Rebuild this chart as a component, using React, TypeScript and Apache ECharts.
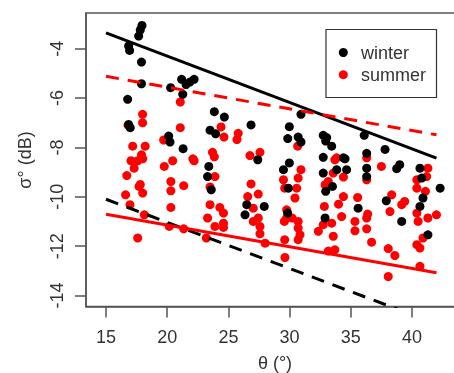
import React, { useEffect, useRef } from "react";
import * as echarts from "echarts";

// incidence angle (deg), backscatter (dB)
const winterPoints: [number, number][] = [
  [17.94, -3.06], [17.8, -3.24], [17.67, -3.49], [16.85, -3.89], [16.93, -4.07],
  [17.9, -4.54], [17.9, -5.42], [16.77, -6.05], [16.85, -7.07], [16.98, -7.2],
  [21.18, -5.24], [21.54, -5.45], [22.2, -5.24], [21.85, -5.35], [21.27, -5.85],
  [20.28, -5.58], [20.12, -7.54], [20.23, -7.78], [21.3, -8.05],
  [23.85, -6.55], [24.67, -6.77], [23.5, -7.3], [23.96, -7.45], [26.85, -7.09],
  [30.93, -6.66], [29.98, -7.16], [29.85, -7.64], [30.7, -7.58], [30.93, -7.78],
  [32.75, -7.51], [32.95, -7.74], [27.4, -8.5], [32.75, -8.4],
  [23.4, -8.77], [23.3, -9.18], [23.6, -9.72], [26.5, -10.32], [26.36, -10.73],
  [27.93, -10.39], [29.98, -8.63], [29.5, -8.9], [29.9, -9.65], [29.84, -10.66],
  [32.75, -9.04], [32.95, -9.78], [32.9, -10.86], [36.1, -7.51], [37.8, -8.08],
  [33.03, -7.6], [33.44, -7.95], [34.4, -8.42], [36.3, -8.24], [34.53, -8.46],
  [33.85, -8.9], [34.66, -8.9], [36.3, -8.84], [36.3, -9.18], [38.75, -8.86],
  [39.0, -8.7], [40.65, -8.84], [40.8, -9.24], [40.9, -10.05], [40.65, -10.39],
  [39.16, -11.0], [41.3, -11.54], [42.3, -9.65], [37.9, -10.16], [35.6, -10.46],
  [33.5, -9.58],
];

const summerPoints: [number, number][] = [
  [17.99, -6.66], [17.99, -7.0], [16.8, -7.1], [17.18, -7.95], [18.2, -7.95],
  [17.04, -8.54], [17.59, -8.54], [18.0, -8.46], [17.3, -8.84], [16.7, -9.14],
  [17.7, -9.58], [18.0, -9.85], [16.6, -9.92], [16.96, -10.32], [18.13, -10.73],
  [17.59, -11.67], [17.9, -8.3], [17.8, -9.5],
  [21.07, -6.16], [21.07, -7.2], [19.71, -7.7], [19.76, -8.77], [20.45, -8.54],
  [20.3, -9.38], [20.3, -9.76], [21.35, -9.55], [20.3, -10.43], [20.17, -11.2],
  [21.35, -11.3], [22.1, -8.46], [22.2, -8.54],
  [24.4, -7.17], [24.64, -7.58], [23.7, -8.2], [23.85, -8.38], [23.9, -9.18],
  [23.5, -10.32], [23.3, -10.86], [23.9, -11.2], [23.2, -11.67], [24.3, -10.43],
  [24.6, -10.66], [24.6, -11.07], [24.6, -11.24], [23.5, -9.6],
  [25.8, -7.43], [25.7, -7.68],
  [26.76, -8.33], [27.58, -8.2], [26.85, -9.48], [26.58, -9.99], [27.44, -9.89],
  [27.03, -10.46], [27.44, -10.86], [27.58, -11.2], [27.58, -11.5], [27.03, -11.0],
  [28.0, -11.88],
  [30.66, -7.95], [30.93, -8.9], [30.7, -9.24], [30.58, -9.65], [30.44, -10.05],
  [29.5, -9.31], [29.6, -9.65], [29.76, -10.53], [29.57, -11.0], [30.2, -10.86],
  [30.7, -11.0], [30.7, -11.27], [30.85, -11.54], [30.7, -11.74], [29.6, -11.74],
  [29.62, -12.46], [29.76, -10.86],
  [32.9, -9.51], [32.84, -10.39], [32.75, -11.13], [32.35, -11.4], [33.16, -12.2],
  [33.85, -8.42], [33.7, -8.5], [33.57, -9.04], [34.4, -9.99], [34.0, -10.3],
  [34.25, -10.8], [33.44, -11.07], [33.57, -11.6], [33.7, -12.15], [34.4, -9.2],
  [33.16, -9.38],
  [36.3, -8.42], [36.3, -9.31], [35.56, -10.03], [35.34, -11.0], [35.34, -11.38],
  [36.38, -10.7], [36.3, -10.86], [36.3, -11.3], [36.7, -11.84], [37.5, -8.77],
  [38.34, -9.92], [38.2, -10.6], [39.16, -10.32], [39.4, -10.19], [38.06, -12.1],
  [38.6, -12.38], [38.06, -13.23],
  [41.3, -8.84], [40.4, -9.31], [40.4, -9.65], [41.1, -9.78], [40.4, -10.66],
  [40.5, -11.0], [41.3, -10.86], [42.0, -10.73], [40.4, -11.94], [40.65, -12.08],
  [40.9, -11.67], [40.65, -12.82], [41.2, -9.18],
];

// regression / envelope lines: [theta, sigma] endpoints
const winterUpper: [number, number][] = [[15, -3.36], [42, -8.43]];
const winterLower: [number, number][] = [[15, -10.1], [42, -15.15]];
const summerUpper: [number, number][] = [[15, -5.12], [42, -7.49]];
const summerLower: [number, number][] = [[15, -10.71], [42, -13.08]];

const xTicks = [15, 20, 25, 30, 35, 40];
const yTicks = [-14, -12, -10, -8, -6, -4];

const FONT = "'Liberation Sans', Arial, Helvetica, sans-serif";
const AX = "#555";

export default function App() {
  const ref = useRef<HTMLDivElement>(null);
  useEffect(() => {
    if (!ref.current) return;
    const chart = echarts.init(ref.current, undefined, { renderer: "svg" });
    const lineSeries = (data: [number, number][], color: string, dashed: boolean) => ({
      type: "line",
      data,
      symbol: "none",
      clip: true,
      silent: true,
      z: 5,
      lineStyle: { color, width: 3, type: dashed ? [13, 9] : "solid", cap: "butt" },
    });
    chart.setOption({
      animation: false,
      grid: {
        left: 86,
        top: 13,
        width: 378,
        height: 293.5,
        show: true,
        borderColor: AX,
        borderWidth: 1.5,
        backgroundColor: "transparent",
      },
      xAxis: {
        type: "value",
        min: 13.366,
        max: 44.25,
        splitLine: { show: false },
        axisLine: { show: true, onZero: false, lineStyle: { color: AX, width: 1.5 } },
        axisTick: { show: true, length: 11, customValues: xTicks, lineStyle: { color: AX, width: 1.5 } },
        axisLabel: {
          customValues: xTicks,
          margin: 21,
          fontSize: 18,
          fontFamily: FONT,
          color: "#333",
        },
      },
      yAxis: {
        type: "value",
        min: -14.446,
        max: -2.553,
        splitLine: { show: false },
        axisLine: { show: true, onZero: false, lineStyle: { color: AX, width: 1.5 } },
        axisTick: { show: true, length: 11, customValues: yTicks, lineStyle: { color: AX, width: 1.5 } },
        axisLabel: {
          customValues: yTicks,
          rotate: 90,
          margin: 20,
          fontSize: 18,
          fontFamily: FONT,
          color: "#333",
        },
      },
      series: [
        {
          type: "scatter",
          name: "summer",
          data: summerPoints,
          symbol: "circle",
          symbolSize: 9,
          itemStyle: { color: "#ff0000", opacity: 1 },
          z: 2,
        },
        {
          type: "scatter",
          name: "winter",
          data: winterPoints,
          symbol: "circle",
          symbolSize: 9,
          itemStyle: { color: "#000000", opacity: 1 },
          z: 3,
        },
        lineSeries(winterUpper, "#000000", false),
        lineSeries(winterLower, "#000000", true),
        lineSeries(summerUpper, "#ff0000", true),
        lineSeries(summerLower, "#ff0000", false),
      ],
      graphic: [
        {
          type: "rect",
          shape: { x: 326, y: 29.5, width: 110.5, height: 68 },
          style: { fill: "#fff", stroke: "#333", lineWidth: 1.2 },
          z: 10,
        },
        { type: "circle", shape: { cx: 343.3, cy: 52.5, r: 4.5 }, style: { fill: "#000" }, z: 11 },
        { type: "circle", shape: { cx: 343.3, cy: 74.7, r: 4.5 }, style: { fill: "#ff0000" }, z: 11 },
        {
          type: "text",
          x: 361,
          y: 52.5,
          style: { text: "winter", fontSize: 18, fontFamily: FONT, fill: "#333", verticalAlign: "middle" },
          z: 11,
        },
        {
          type: "text",
          x: 361,
          y: 74.7,
          style: { text: "summer", fontSize: 18, fontFamily: FONT, fill: "#333", verticalAlign: "middle" },
          z: 11,
        },
        {
          type: "text",
          x: 275,
          y: 363,
          style: { text: "θ (°)", fontSize: 18, fontFamily: FONT, fill: "#333", align: "center", verticalAlign: "middle" },
        },
        {
          type: "text",
          x: 25,
          y: 160,
          rotation: Math.PI / 2,
          style: { text: "σ° (dB)", fontSize: 18, fontFamily: FONT, fill: "#333", align: "center", verticalAlign: "middle" },
        },
      ],
    });
    return () => chart.dispose();
  }, []);
  return <div ref={ref} style={{ position: "fixed", left: 0, top: 0, width: 480, height: 373 }} />;
}
